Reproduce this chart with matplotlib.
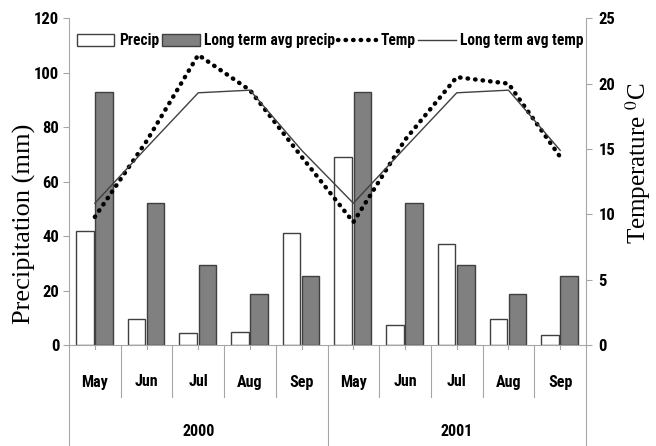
import matplotlib
matplotlib.use("Agg")
import matplotlib.pyplot as plt
from matplotlib.patches import Patch
from matplotlib.lines import Line2D
from matplotlib.transforms import blended_transform_factory
from matplotlib import font_manager
import numpy as np

months = ["May", "Jun", "Jul", "Aug", "Sep", "May", "Jun", "Jul", "Aug", "Sep"]
years = ["2000", "2001"]
precip = [42.0, 9.4, 4.3, 4.9, 41.0, 69.2, 7.3, 37.0, 9.5, 3.8]
lt_precip = [93.0, 52.3, 29.4, 18.6, 25.3, 93.0, 52.3, 29.4, 18.6, 25.3]
temp = [9.8, 15.6, 22.2, 19.5, 14.4, 9.4, 15.7, 20.5, 20.0, 14.4]
lt_temp = [10.85, 15.1, 19.3, 19.5, 14.9, 10.85, 15.1, 19.3, 19.5, 14.9]

installed = {f.name for f in font_manager.fontManager.ttflist}
cands = ["Liberation Sans Narrow", "DejaVu Sans Condensed", "Roboto Condensed",
         "Open Sans Condensed", "Noto Sans Condensed", "Roboto"]
narrow_name = next((c for c in cands if c in installed), "DejaVu Sans")
narrow = [narrow_name, "DejaVu Sans"]
fs = 11.5 if narrow_name != "Roboto" else 10.5
serif = ["Liberation Serif", "DejaVu Serif"]
plt.rcParams["mathtext.fontset"] = "stix"

fig = plt.figure(figsize=(6.56, 4.46), dpi=100)
ax = fig.add_axes([69/656, 1-345/446, (586-69)/656, (345-18.3)/446])
ax2 = ax.twinx()

x = np.arange(len(months))
edge = "#404040"
ax.bar(x - 0.195, precip, width=0.34, color="white", edgecolor=edge, linewidth=1.0, zorder=2)
ax.bar(x + 0.175, lt_precip, width=0.34, color="#808080", edgecolor=edge, linewidth=1.0, zorder=2)
ax2.plot(x, temp, color="black", linestyle=(0, (0.1, 1.6)), linewidth=3.2,
         dash_capstyle="round", zorder=3)
ax2.plot(x, lt_temp, color="#404040", linewidth=1.0, zorder=3)

ax.set_xlim(-0.5, 9.5)
ax.set_ylim(0, 120)
ax2.set_ylim(0, 25)
ax.set_yticks(range(0, 121, 20))
ax2.set_yticks(range(0, 26, 5))
ax.set_xticks([])
ax2.set_xticks([])

axcol = "#a6a6a6"
for a in (ax, ax2):
    for s in a.spines.values():
        s.set_visible(False)
ax.spines["left"].set_visible(True)
ax.spines["left"].set_color(axcol)
ax2.spines["right"].set_visible(True)
ax2.spines["right"].set_color(axcol)
ax.spines["bottom"].set_visible(True)
ax.spines["bottom"].set_color(axcol)

ax.tick_params(axis="y", length=4, color=axcol, pad=3)
ax2.tick_params(axis="y", length=4, color=axcol, pad=5)
for lab in ax.get_yticklabels() + ax2.get_yticklabels():
    lab.set_fontfamily(narrow)
    lab.set_fontweight("bold")
    lab.set_fontsize(fs + 0.5)

tr = blended_transform_factory(ax.transData, fig.transFigure)
y0 = 1 - 345/446
for i in range(len(months)):
    ax.plot([i, i], [y0, y0 - 4/446], transform=tr, color=axcol, lw=0.8, clip_on=False)
    ax.text(i, 1 - 382/446, months[i], transform=tr, ha="center", va="center",
            fontsize=fs, fontweight="bold", family=narrow)
for b in np.arange(-0.5, 10, 1.0):
    if b in (-0.5, 4.5, 9.5):
        ybot = 0.0
    else:
        ybot = 1 - 397/446
    ax.plot([b, b], [y0, ybot], transform=tr, color=axcol, lw=0.8, clip_on=False)
for k, yr in enumerate(years):
    ax.text(2 + 5*k, 1 - 432/446, yr, transform=tr, ha="center", va="center",
            fontsize=fs, fontweight="bold", family=narrow)

fig.text(24/656, 1 - 224/446, "Precipitation (mm)", rotation=90, ha="center", va="center",
         fontsize=19, family=serif)
fig.text(638/656, 1 - 163/446, "Temperature $^{0}$C", rotation=90, ha="center", va="center",
         fontsize=18, family=serif)

handles = [Patch(facecolor="white", edgecolor=edge, linewidth=1.0),
           Patch(facecolor="#808080", edgecolor=edge, linewidth=1.0),
           Line2D([], [], color="black", linestyle=(0, (0.1, 1.6)), linewidth=3.2, dash_capstyle="round"),
           Line2D([], [], color="#404040", linewidth=1.0)]
labels = ["Precip", "Long term avg precip", "Temp", "Long term avg temp"]
leg = fig.legend(handles, labels, loc="center left", bbox_to_anchor=(77/656, 1 - 41/446),
                 ncol=4, frameon=False, handlelength=2.4, handleheight=0.8,
                 handletextpad=0.3, columnspacing=0.2, borderpad=0, borderaxespad=0,
                 prop={"family": narrow, "weight": "bold", "size": fs - 0.3})

fig.savefig("out.png", dpi=100)
